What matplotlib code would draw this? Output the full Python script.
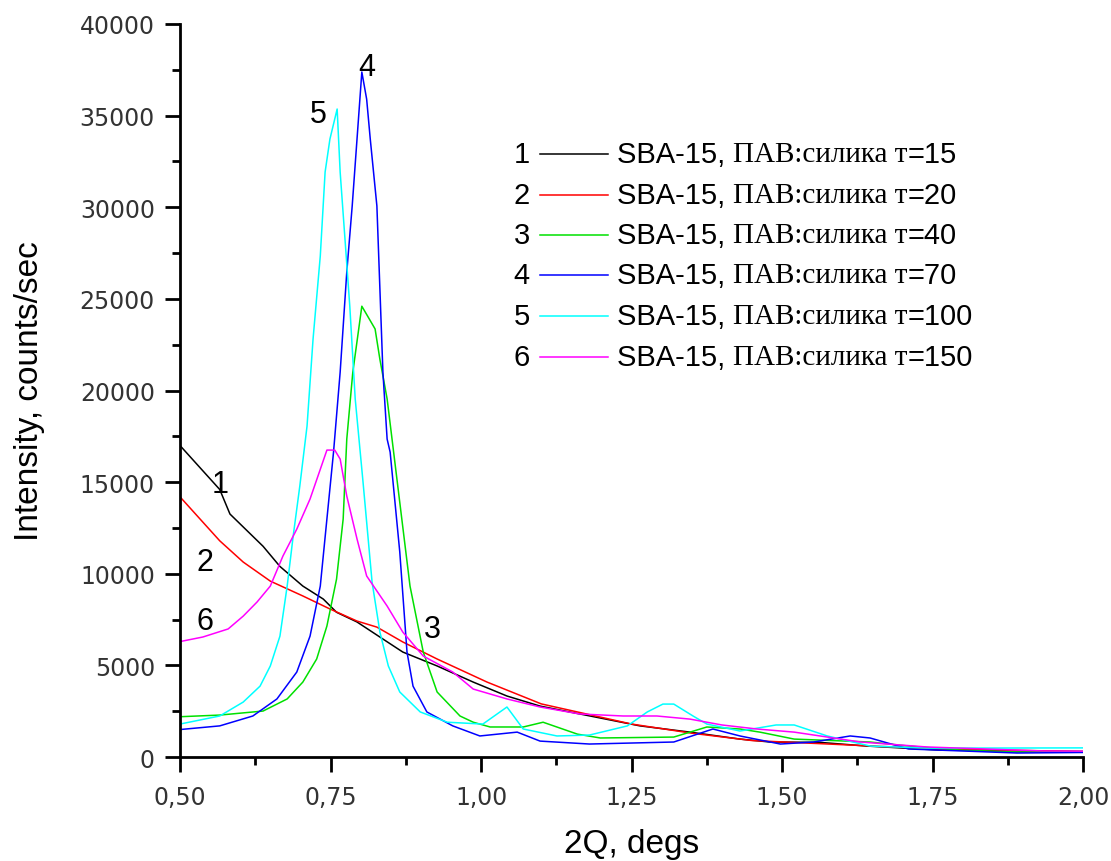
import numpy as np
import matplotlib
matplotlib.use('Agg')
import matplotlib.pyplot as plt
from matplotlib.ticker import MultipleLocator, FuncFormatter

# series: 2Q (degs) and intensity (counts/sec)
x1 = [0.50, 0.566, 0.583, 0.638, 0.666, 0.704, 0.738, 0.76, 0.794, 0.837, 0.870, 0.927, 0.987,
      1.043, 1.098, 1.181, 1.264, 1.347, 1.43, 1.48, 1.563, 1.64, 1.762, 2.0]
y1 = [17000, 14600, 13260, 11500, 10400, 9330, 8620, 7900, 7370, 6440, 5730, 4970, 4090,
      3330, 2780, 2240, 1700, 1360, 980, 820, 800, 600, 380, 300]

x2 = [0.50, 0.566, 0.605, 0.65, 0.704, 0.749, 0.794, 0.827, 0.870, 0.927, 1.01, 1.1,
      1.25, 1.35, 1.45, 1.55, 1.65, 1.75, 2.0]
y2 = [14200, 11800, 10640, 9600, 8790, 8080, 7420, 7090, 6280, 5350, 4090, 2900,
      1800, 1300, 900, 750, 600, 450, 300]

x3 = [0.50, 0.566, 0.638, 0.678, 0.704, 0.727, 0.744, 0.76, 0.771, 0.777, 0.787, 0.802,
      0.824, 0.832, 0.844, 0.882, 0.904, 0.927, 0.965, 0.987, 1.015, 1.07, 1.103, 1.16,
      1.198, 1.32, 1.375, 1.43, 1.463, 1.52, 1.646, 1.71, 1.795, 1.89, 2.0]
y3 = [2200, 2290, 2510, 3170, 4090, 5350, 7150, 9710, 12990, 17350, 21000, 24600,
      23360, 21700, 19540, 9330, 5730, 3550, 2240, 1900, 1640, 1640, 1900, 1250,
      1040, 1090, 1640, 1530, 1360, 980, 820, 600, 380, 270, 300]

x4 = [0.50, 0.566, 0.621, 0.661, 0.694, 0.716, 0.733, 0.744, 0.755, 0.766, 0.777, 0.786,
      0.794, 0.802, 0.81, 0.816, 0.827, 0.832, 0.837, 0.844, 0.849, 0.865, 0.877, 0.887,
      0.91, 0.953, 0.998, 1.06, 1.098, 1.18, 1.32, 1.385, 1.43, 1.497, 1.552, 1.613,
      1.646, 1.71, 1.89, 2.0]
y4 = [1500, 1700, 2240, 3170, 4640, 6600, 9330, 12990, 16640, 21000, 26470, 30070,
      33720, 37380, 35900, 33720, 30070, 25540, 21000, 17350, 16640, 11190, 5730, 3870,
      2460, 1700, 1150, 1360, 870, 710, 820, 1530, 1150, 710, 820, 1150,
      1040, 440, 220, 250]

x5 = [0.50, 0.566, 0.605, 0.633, 0.65, 0.666, 0.678, 0.688, 0.699, 0.711, 0.721, 0.733,
      0.741, 0.749, 0.761, 0.766, 0.774, 0.782, 0.791, 0.804, 0.819, 0.832, 0.846, 0.865,
      0.899, 0.944, 1.003, 1.043, 1.07, 1.126, 1.18, 1.243, 1.276, 1.302, 1.32, 1.352,
      1.375, 1.43, 1.49, 1.52, 1.575, 1.646, 1.74, 1.85, 2.0]
y5 = [1800, 2240, 3000, 3870, 4970, 6600, 9330, 12060, 14790, 18060, 22810, 27340,
      31920, 33720, 35360, 31920, 28270, 24600, 19540, 15000, 9550, 6820, 4970, 3550,
      2460, 1900, 1800, 2730, 1530, 1150, 1200, 1700, 2460, 2890, 2890, 2240,
      1800, 1420, 1750, 1750, 1150, 600, 490, 490, 500]

x6 = [0.50, 0.538, 0.58, 0.605, 0.628, 0.65, 0.671, 0.694, 0.716, 0.744, 0.757, 0.766,
      0.777, 0.794, 0.81, 0.844, 0.870, 0.904, 0.953, 0.987, 1.043, 1.098, 1.164, 1.236,
      1.292, 1.347, 1.40, 1.458, 1.52, 1.563, 1.63, 1.74, 1.934, 2.0]
y6 = [6300, 6550, 6990, 7690, 8460, 9330, 10970, 12440, 14080, 16750, 16750, 16260,
      14240, 11900, 9880, 8240, 6820, 5510, 4640, 3710, 3170, 2730, 2350, 2240,
      2240, 2070, 1750, 1530, 1360, 1150, 820, 550, 330, 320]

labels = ['1', '2', '3', '4', '5', '6']
taus = ['15', '20', '40', '70', '100', '150']
colors = ['black', '#ff0000', '#00e000', '#0000ff', '#00ffff', '#ff00ff']

# curve numbers placed next to the curves (data coords)
tag_x = [0.566, 0.5415, 0.9186, 0.8106, 0.729, 0.5415]
tag_y = [14900, 10640, 6985, 37650, 35090, 7420]


def main():
    fig = plt.figure(figsize=(11.11, 8.62), dpi=100)
    ax = fig.add_axes([0.162, 0.1206, 0.813, 0.8504])

    xs = [x1, x2, x3, x4, x5, x6]
    ys = [y1, y2, y3, y4, y5, y6]
    for i in range(6):
        ax.plot(xs[i], ys[i], color=colors[i], lw=1.1)
        ax.text(tag_x[i], tag_y[i], labels[i], fontsize=22, family='Liberation Sans',
                ha='center', va='center')

    ax.set_xlim(0.5, 2.0)
    ax.set_ylim(0, 40000)
    for s in ['top', 'right']:
        ax.spines[s].set_visible(False)
    for s in ['left', 'bottom']:
        ax.spines[s].set_linewidth(2)
    ax.xaxis.set_major_locator(MultipleLocator(0.25))
    ax.xaxis.set_minor_locator(MultipleLocator(0.125))
    ax.yaxis.set_major_locator(MultipleLocator(5000))
    ax.yaxis.set_minor_locator(MultipleLocator(2500))
    ax.xaxis.set_major_formatter(FuncFormatter(lambda v, p: ('%.2f' % v).replace('.', ',')))
    ax.tick_params(which='major', length=11, width=2, labelsize=17, labelcolor='#333333', pad=9)
    ax.tick_params(which='minor', length=6, width=2)
    ax.tick_params(axis='y', which='major', pad=7)

    ax.set_xlabel('2Q, degs', fontsize=24, family='Liberation Sans')
    ax.set_ylabel('Intensity, counts/sec', fontsize=24, family='Liberation Sans')
    ax.xaxis.set_label_coords(0.5, -0.097)
    ax.yaxis.set_label_coords(-0.149, 0.5)

    # hand-drawn style legend
    W, H = 1111.0, 862.0
    row_y = [155, 196, 236, 276, 317, 358]
    for i in range(6):
        fy = 1 - row_y[i] / H
        fig.text(530 / W, fy, labels[i], fontsize=21, family='Liberation Sans',
                 ha='right', va='center')
        fig.add_artist(plt.Line2D([540 / W, 608 / W], [fy, fy], color=colors[i], lw=1.1))
        t = fig.text(617 / W, fy, 'SBA-15, ', fontsize=21, family='Liberation Sans',
                     ha='left', va='center')
        t = ax.annotate('ПАВ:силика т', xy=(1, 0.5), xycoords=t, fontsize=21,
                        family='Liberation Serif', ha='left', va='center')
        ax.annotate('=' + taus[i], xy=(1, 0.5), xycoords=t, fontsize=21,
                    family='Liberation Sans', ha='left', va='center')

    fig.savefig('out.png', dpi=100)


if __name__ == '__main__':
    main()
